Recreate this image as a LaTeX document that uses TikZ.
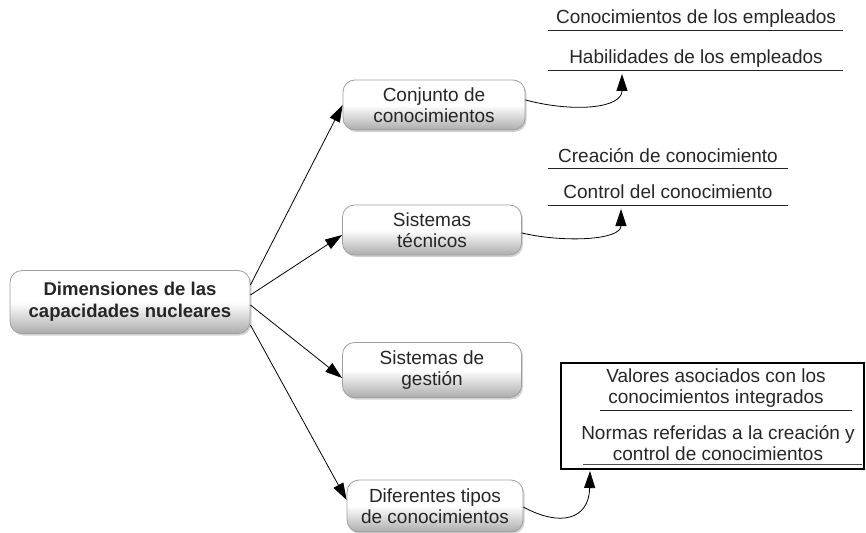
\documentclass[tikz,border=0pt]{standalone}
\usepackage{fontspec}
\setmainfont{Liberation Sans}
\usetikzlibrary{arrows.meta,shadows,calc}
\begin{document}
\begin{tikzpicture}[x=1pt,y=-1pt,
  every node/.style={font=\fontsize{19}{21}\selectfont, align=center, inner sep=0pt, text=black!85},
  bubble/.style={draw=gray!75, line width=0.8pt, rounded corners=12pt,
     top color=white, bottom color=gray!65, middle color=white,
     drop shadow={shadow xshift=1.5pt, shadow yshift=-2pt, opacity=0.35}},
  arr/.style={line width=0.8pt, -{Triangle[length=17pt,width=11pt]}},
  uline/.style={line width=1pt, draw=black!85}
]
\useasboundingbox (0,0) rectangle (866,532);
% main and branch boxes
\node[bubble, minimum width=240pt, minimum height=63pt, font=\bfseries\fontsize{18.5}{22}\selectfont] (main) at (130,302) {Dimensiones de las\\capacidades nucleares};
\node[bubble, minimum width=182pt, minimum height=50pt] (c1) at (434,105) {Conjunto de\\conocimientos};
\node[bubble, minimum width=179pt, minimum height=50pt] (c2) at (432,230) {Sistemas\\técnicos};
\node[bubble, minimum width=179pt, minimum height=55pt] (c3) at (432,370) {Sistemas de\\gestión};
\node[bubble, minimum width=176pt, minimum height=52pt] (c4) at (435,506) {Diferentes tipos\\de conocimientos};
% arrows from main
\draw[arr] ($(main.east)+(0,-17)$) -- (c1.west);
\draw[arr] ($(main.east)+(0,-7)$) -- ($(c2.west)+(0,5)$);
\draw[arr] ($(main.east)+(0,3)$) -- ($(c3.west)+(0,8)$);
\draw[arr] ($(main.east)+(0,23)$) -- ($(c4.west)+(0,-6)$);
% top right texts
\node (t1) at (696,19) {Conocimientos de los empleados};
\node (t2) at (696,59) {Habilidades de los empleados};
\draw[uline] (548,31) -- (843,31);
\draw[uline] (548,71) -- (843,71);
\node (t3) at (668,156) {Creación de conocimiento};
\node (t4) at (668,192) {Control del conocimiento};
\draw[uline] (548,168) -- (788,168);
\draw[uline] (548,205) -- (788,205);
% bottom right box
\node[draw, line width=2pt, minimum width=303pt, minimum height=106pt] (bx) at (712.5,416) {};
\node (v1) at (716,388) {Valores asociados con los\\conocimientos integrados};
\node (v2) at (718,443) {Normas referidas a la creación y\\control de conocimientos};
\draw[uline] (600,410) -- (852,410);
\draw[uline, draw=black!70] (583,464.5) -- (862,464.5);
% tips
\coordinate (p1) at (622,74);
\coordinate (p2) at (621,209);
\coordinate (p3) at (590,471);
\draw[arr] ($(c1.east)+(0,-5)$) .. controls (575,113) and (622,108) .. (p1);
\draw[arr] ($(c2.east)+(0,3)$) .. controls (565,243) and (621,240) .. (p2);
\draw[arr] ($(c4.east)+(0,1)$) .. controls (560,527) and (589,520) .. (p3);
\end{tikzpicture}
\end{document}
